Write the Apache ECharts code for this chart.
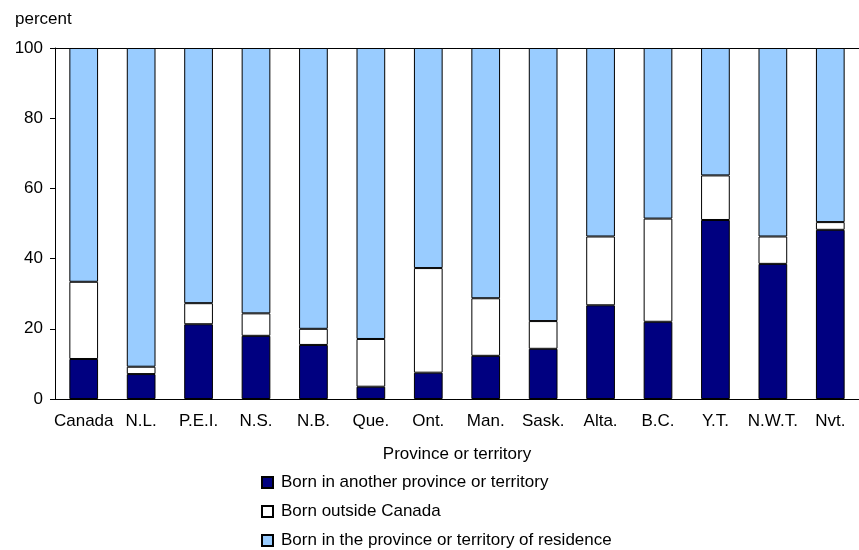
<!DOCTYPE html>
<html>
<head>
<meta charset="utf-8">
<script src="https://cdn.jsdelivr.net/npm/echarts@6/dist/echarts.min.js"></script>
<style>
  html, body { margin: 0; padding: 0; background: #fff; }
  #myChart { width: 859px; height: 550px; }
</style>
</head>
<body>
<div id="myChart"></div>
<script>
// categories
var provinces = ['Canada', 'N.L.', 'P.E.I.', 'N.S.', 'N.B.', 'Que.', 'Ont.', 'Man.', 'Sask.', 'Alta.', 'B.C.', 'Y.T.', 'N.W.T.', 'Nvt.'];
// percent values
var otherProvince = [11.4, 7.1, 21.3, 18.0, 15.4, 3.5, 7.5, 12.3, 14.3, 26.7, 22.0, 51.0, 38.5, 48.2];
var outsideCanada = [22.0, 2.1, 6.0, 6.4, 4.6, 13.6, 29.8, 16.4, 7.9, 19.6, 29.4, 12.7, 7.8, 2.2];
var sameProvince = [66.6, 90.8, 72.7, 75.6, 80.0, 82.9, 62.7, 71.3, 77.8, 53.7, 48.6, 36.3, 53.7, 49.6];
var yTicks = [0, 20, 40, 60, 80, 100];

var font = "'Liberation Sans', Arial, sans-serif";

var myChart = echarts.init(document.getElementById('myChart'));

function barSeries(name, data, color) {
  return {
    name: name,
    type: 'bar',
    stack: 'total',
    data: data,
    barWidth: '50%',
    itemStyle: { color: color, borderColor: '#000', borderWidth: 1 },
    animation: false
  };
}

myChart.setOption({
  textStyle: { fontFamily: font },
  title: {
    text: 'percent',
    left: 10,
    top: 6,
    textStyle: { fontFamily: font, fontSize: 17, fontWeight: 'normal', color: '#000' }
  },
  grid: { left: 55, right: 0, top: 48, bottom: 151 },
  legend: {
    orient: 'vertical',
    left: 261,
    top: 474,
    height: 90,
    padding: 0,
    itemWidth: 11,
    itemHeight: 11,
    itemGap: 12,
    icon: 'rect',
    textStyle: { fontFamily: font, fontSize: 17, color: '#000', padding: [0, 0, 0, 3] },
    data: ['Born in another province or territory', 'Born outside Canada', 'Born in the province or territory of residence']
  },
  xAxis: [{
    type: 'category',
    data: provinces,
    name: 'Province or territory',
    nameLocation: 'middle',
    nameGap: 47,
    nameTextStyle: { fontFamily: font, fontSize: 17, color: '#000' },
    axisLine: { lineStyle: { color: '#000', width: 1 } },
    axisTick: { show: false },
    axisLabel: { fontFamily: font, fontSize: 17, color: '#000', margin: 14, interval: 0 }
  }, {
    type: 'category',
    data: provinces,
    position: 'top',
    axisLine: { lineStyle: { color: '#000', width: 1 } },
    axisTick: { show: false },
    axisLabel: { show: false }
  }],
  yAxis: {
    type: 'value',
    min: yTicks[0],
    max: yTicks[yTicks.length - 1],
    interval: 20,
    axisLine: { show: true, lineStyle: { color: '#000', width: 1 } },
    axisTick: { show: true, length: 5, lineStyle: { color: '#000' } },
    splitLine: { show: false },
    axisLabel: { fontFamily: font, fontSize: 17, color: '#000', margin: 12 }
  },
  series: [
    barSeries('Born in another province or territory', otherProvince, '#000080'),
    barSeries('Born outside Canada', outsideCanada, '#ffffff'),
    barSeries('Born in the province or territory of residence', sameProvince, '#99ccff')
  ]
});
</script>
</body>
</html>
